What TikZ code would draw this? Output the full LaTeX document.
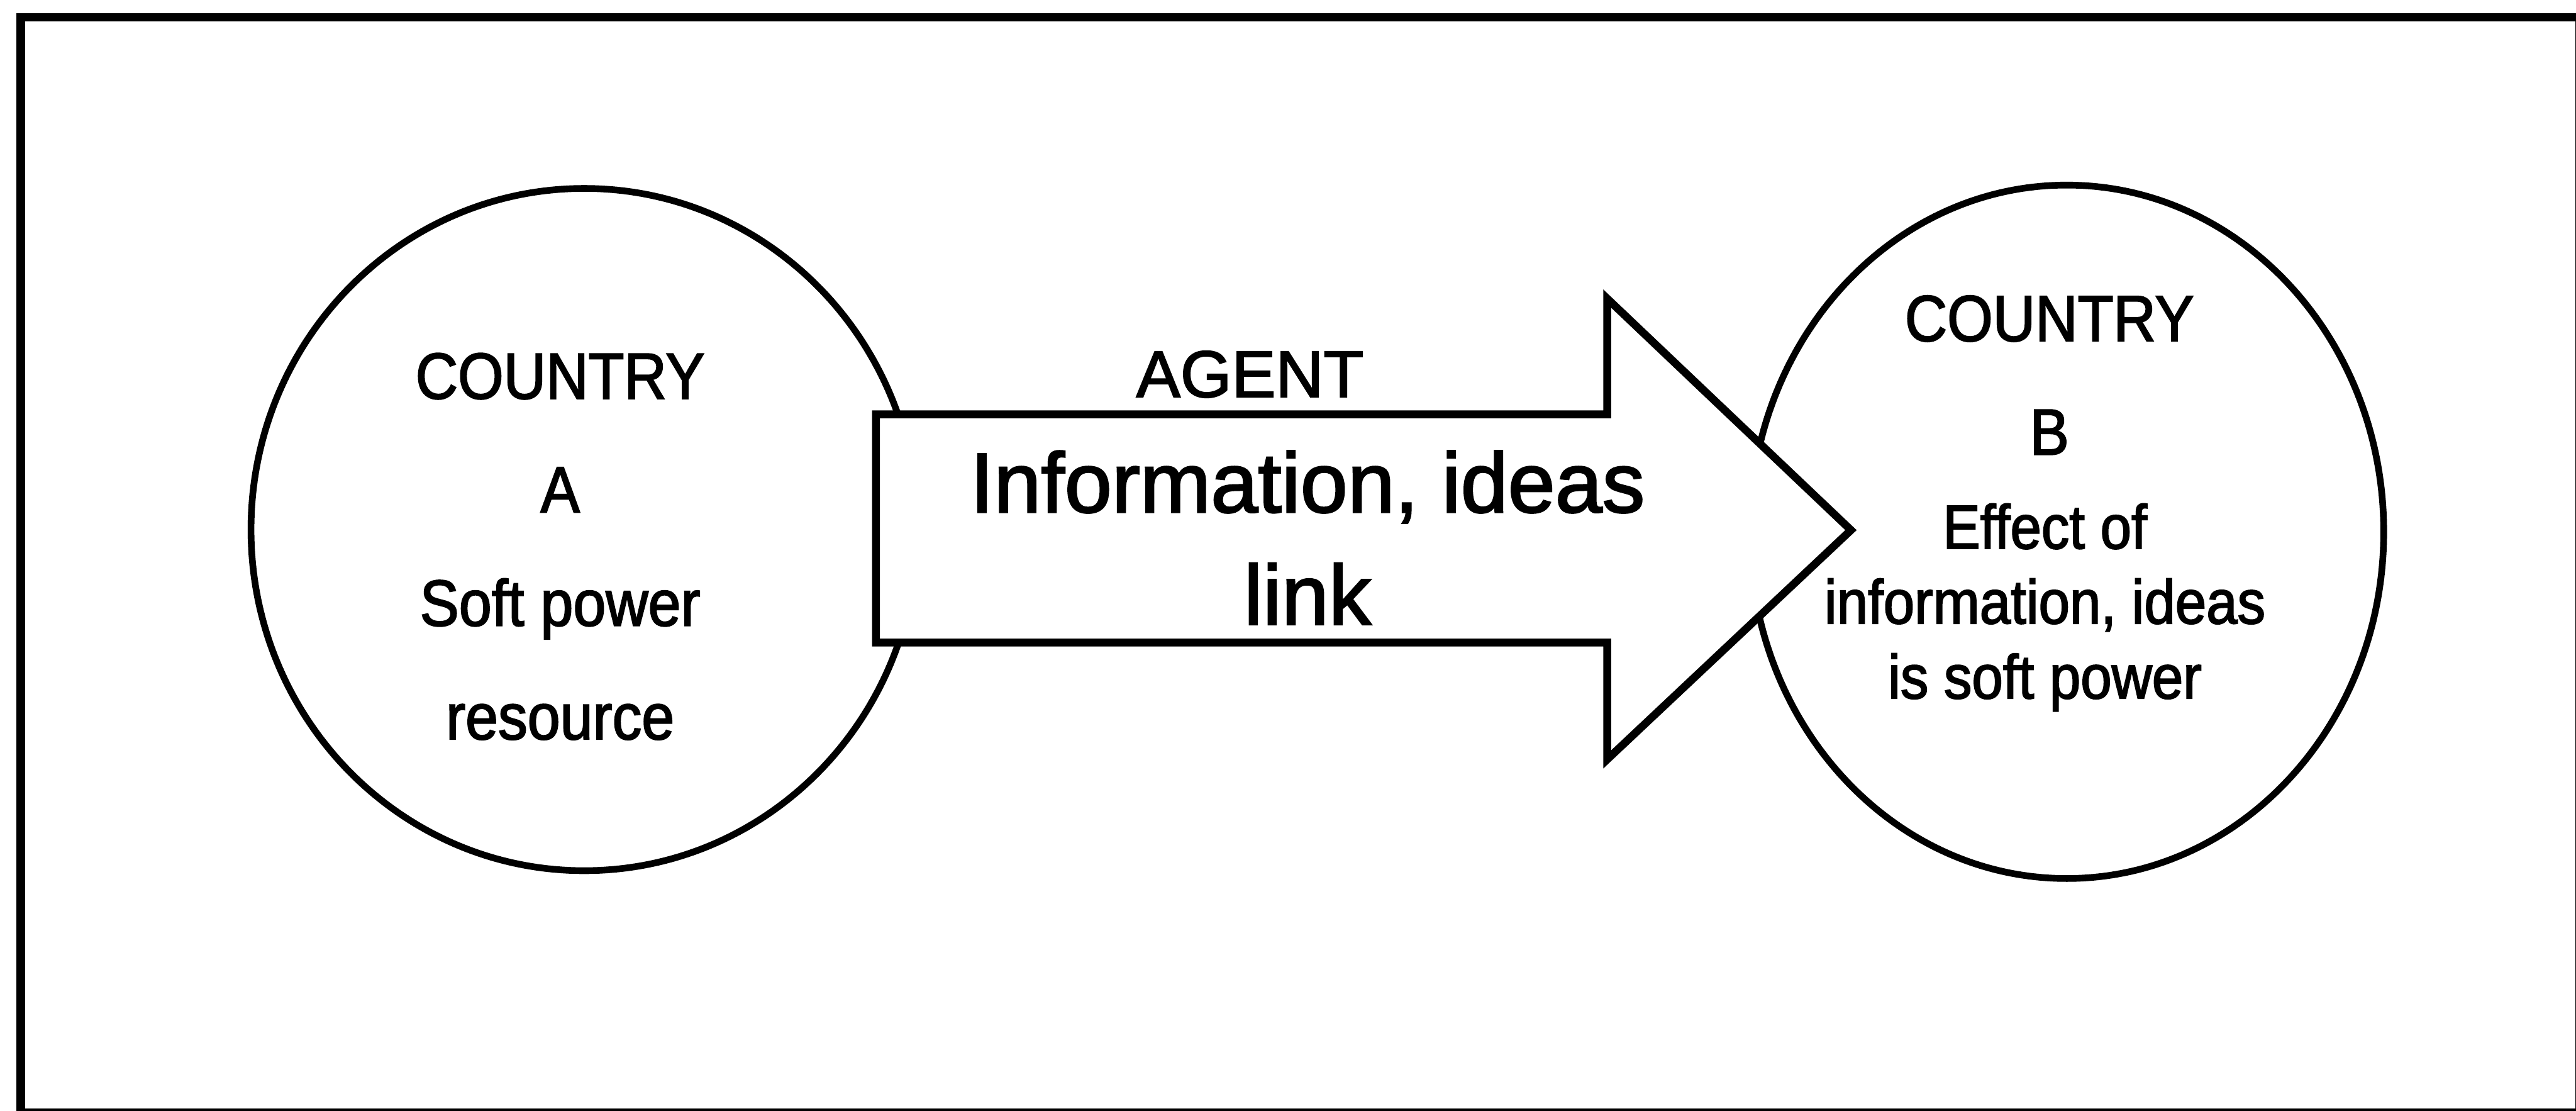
\documentclass[tikz,border=0pt]{standalone}
\usepackage{fontspec}
\setmainfont[FakeBold=2]{Liberation Sans}
\newfontfamily\narrowsf[FakeStretch=0.9,FakeBold=2]{Liberation Sans}
\usetikzlibrary{shapes.geometric}

\tikzset{
	country/.style={ellipse,draw,line width=1.7pt,inner sep=0pt},
	circtext/.style={font=\narrowsf\fontsize{16.6}{20}\selectfont,anchor=base},
	smalltext/.style={font=\narrowsf\fontsize{15.8}{19}\selectfont,anchor=base},
	linkarrow/.style={draw,line width=2pt,fill=white,line join=miter},
}

\begin{document}
\begin{tikzpicture}[x=0.5cm,y=0.5cm]
	\useasboundingbox (0,0) rectangle (46.08,19.86);
	\draw [line width=2.2pt] (0.37,-0.04) rectangle (46.14,19.55);
	% the two countries
	\node [country,minimum width=5.96cm,minimum height=6.1cm] (A) at (10.45,10.39) {};
	\node [country,minimum width=5.67cm,minimum height=6.2cm] (B) at (36.97,10.35) {};
	% the link between them
	\draw [linkarrow] (15.67,8.37) -- (15.67,12.45) -- (28.75,12.45) -- (28.75,14.52)
		-- (33.11,10.38) -- (28.75,6.28) -- (28.75,8.37) -- cycle;
	\begin{scope}[every node/.style={circtext}]
	\node (A1) at (10.02,12.73) {COUNTRY};
	\node (A2) at (10.02,10.70) {A};
	\node (A3) at (10.02,8.67) {Soft power};
	\node (A4) at (10.02,6.64) {resource};
	\node (B1) at (36.66,13.76) {COUNTRY};
	\node (B2) at (36.66,11.73) {B};
	\end{scope}
	\begin{scope}[every node/.style={smalltext}]
	\node (B3) at (36.58,10.05) {Effect of};
	\node (B4) at (36.58,8.71) {information, ideas};
	\node (B5) at (36.58,7.37) {is soft power};
	\end{scope}
	\node [font=\fontsize{16.8}{20}\selectfont,anchor=base] (agent) at (22.36,12.76) {AGENT};
	\node [font=\fontsize{21.6}{25}\selectfont,anchor=base] (info) at (23.39,10.70) {Information, ideas};
	\node [font=\fontsize{21.6}{25}\selectfont,anchor=base] (link) at (23.39,8.69) {link};
\end{tikzpicture}
\end{document}
